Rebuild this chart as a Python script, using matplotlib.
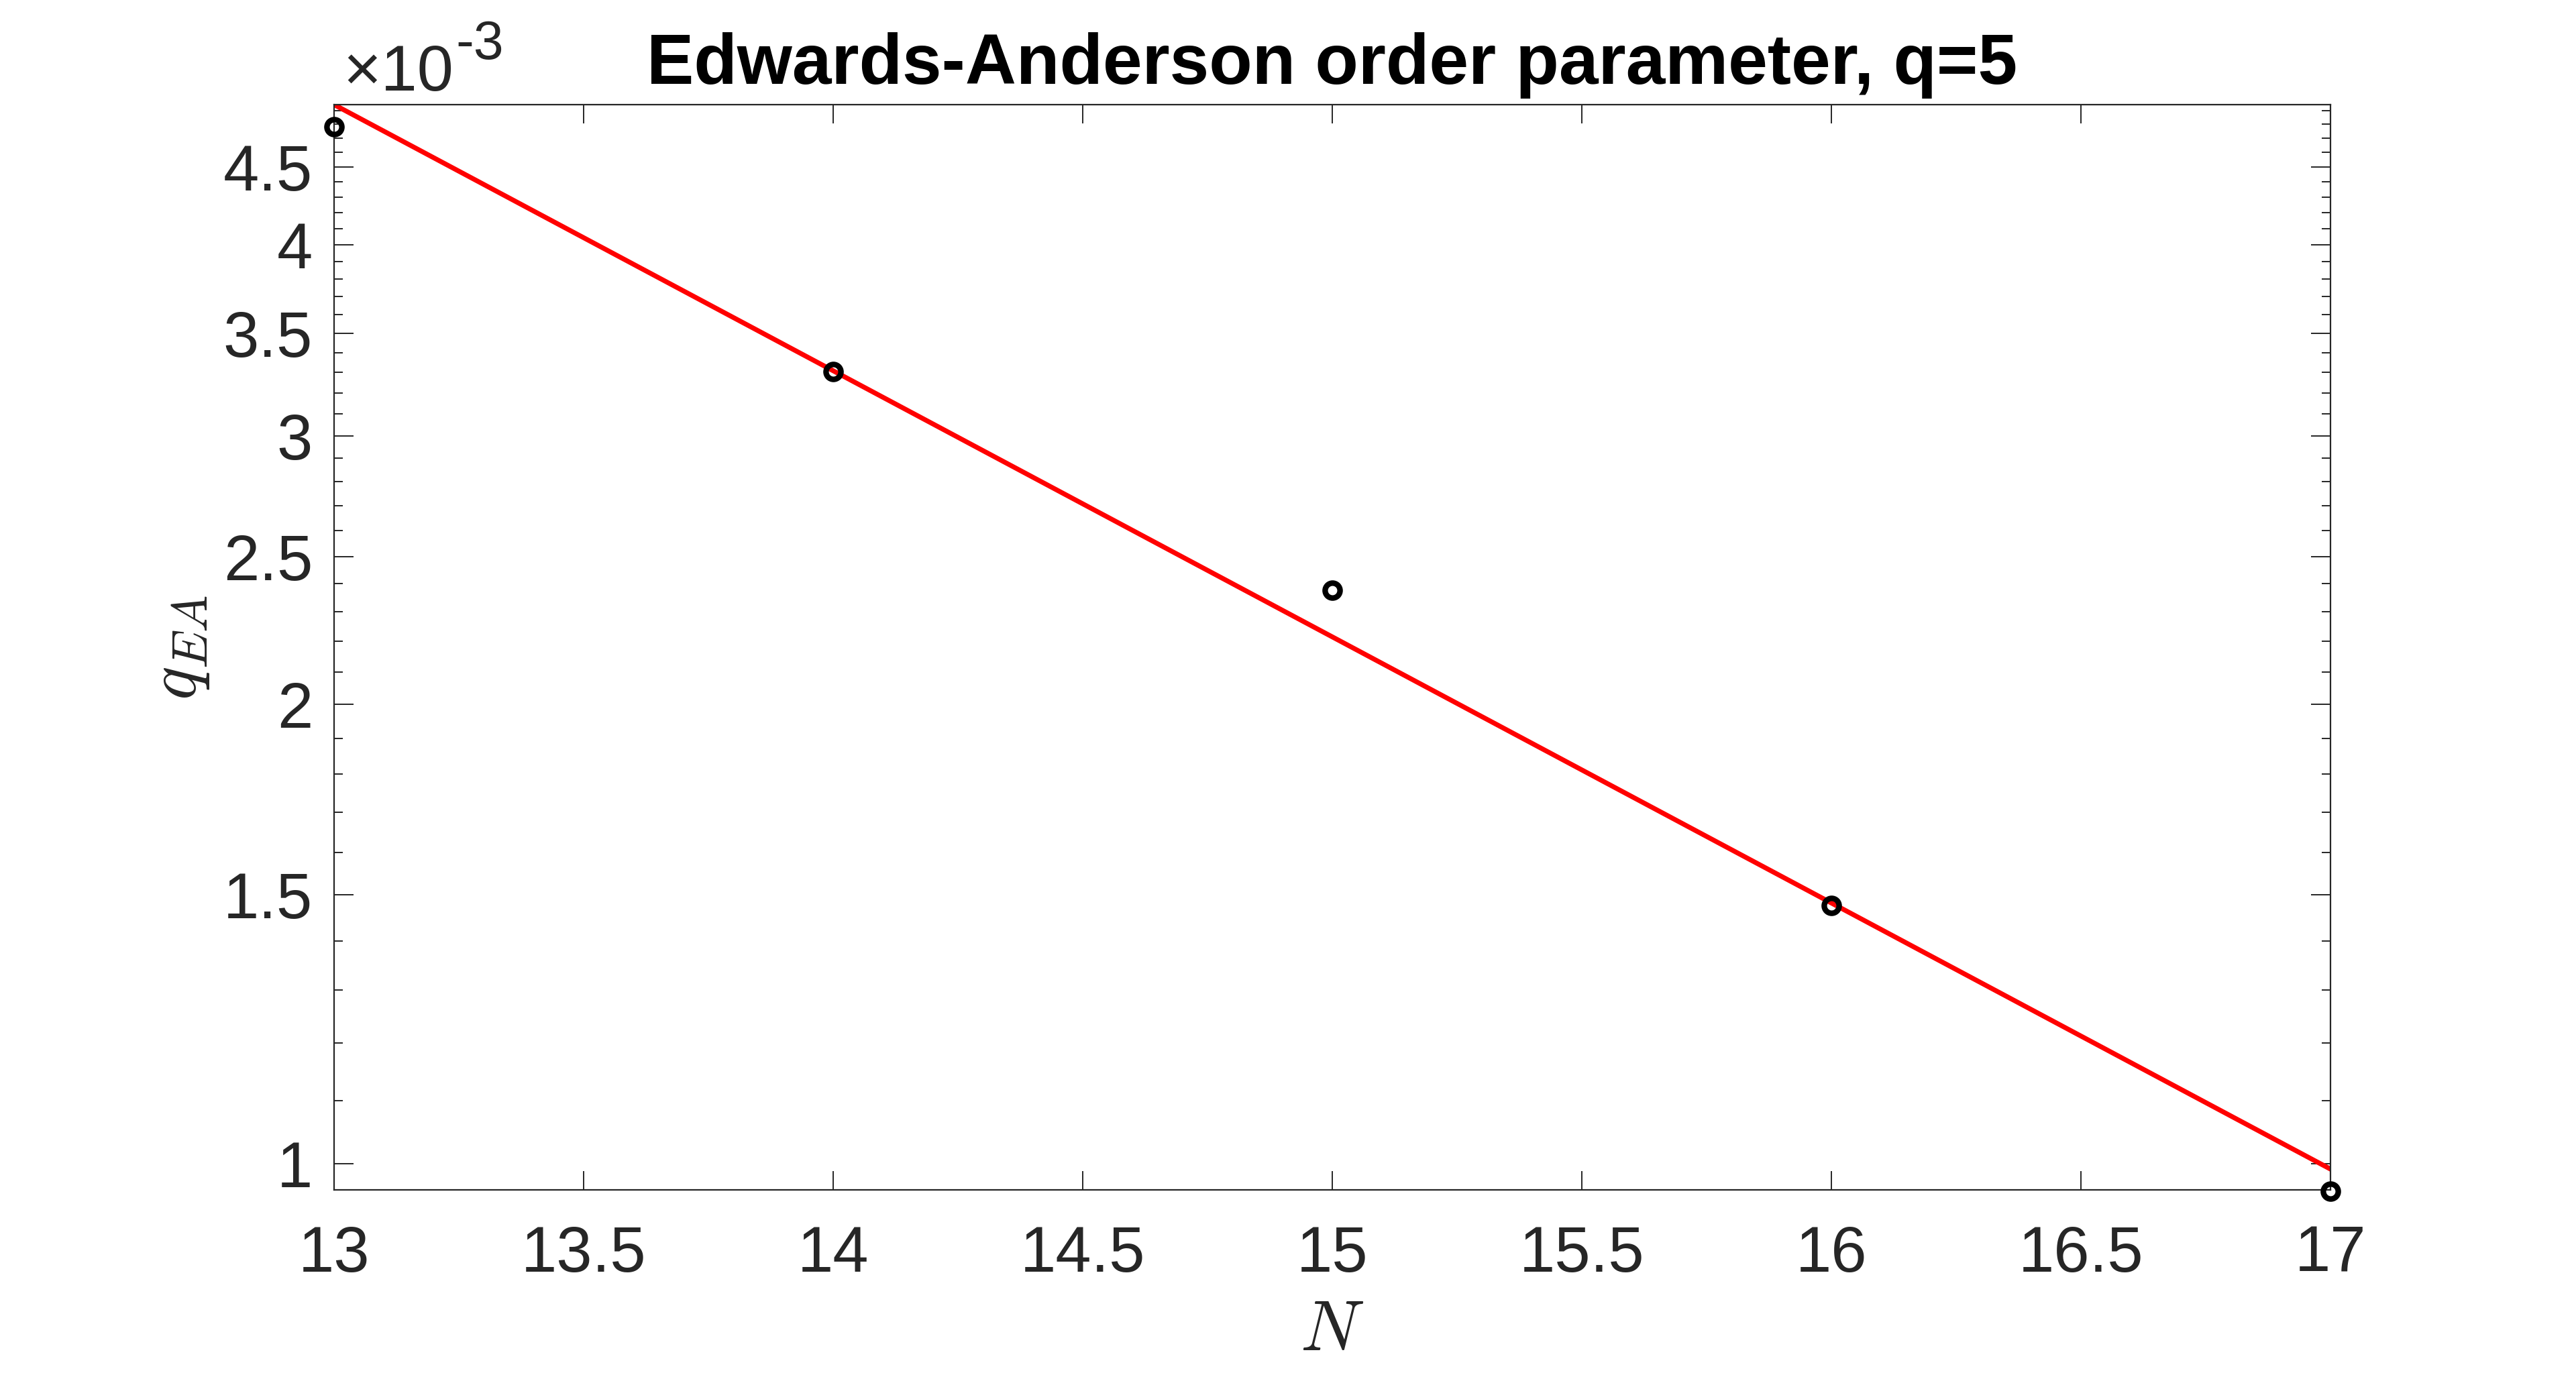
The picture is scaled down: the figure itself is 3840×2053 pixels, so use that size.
import numpy as np
import matplotlib
matplotlib.use("Agg")
import matplotlib.pyplot as plt
from matplotlib.ticker import FixedLocator, FixedFormatter, NullFormatter

# system size N and measured Edwards-Anderson order parameter
N_vals = [13, 14, 15, 16, 17]
q_ea = [4.78e-3, 3.305e-3, 2.376e-3, 1.477e-3, 0.959e-3]

# exponential fit (straight line on log axis), end points
fit_N = [13, 17]
fit_q = [4.944e-3, 0.992e-3]

x_ticks = [13, 13.5, 14, 14.5, 15, 15.5, 16, 16.5, 17]
y_ticks = [1.0, 1.5, 2.0, 2.5, 3.0, 3.5, 4.0, 4.5]
y_tick_labels = ["1", "1.5", "2", "2.5", "3", "3.5", "4", "4.5"]
y_minor = [1.1, 1.2, 1.3, 1.4, 1.6, 1.7, 1.8, 1.9, 2.1, 2.2, 2.3, 2.4,
           2.6, 2.7, 2.8, 2.9, 3.1, 3.2, 3.3, 3.4, 3.6, 3.7, 3.8, 3.9,
           4.1, 4.2, 4.3, 4.4, 4.6, 4.7, 4.8, 4.9]
y_scale = 1e-3
y_lim = (0.961e-3, 4.944e-3)

plt.rcParams['font.family'] = ['Liberation Sans', 'DejaVu Sans']
axcol = (0.15, 0.15, 0.15)

DPI = 200
fig = plt.figure(figsize=(3840 / DPI, 2053 / DPI), dpi=DPI)
ax = fig.add_axes([0.1297, 0.1357, 0.9047 - 0.1297, 0.9240 - 0.1357])

ax.plot(fit_N, fit_q, color='red', linewidth=2.6, zorder=2)
ax.plot(N_vals, q_ea, linestyle='none', marker='o', markersize=8,
        markerfacecolor='none', markeredgecolor='black', markeredgewidth=3,
        clip_on=False, zorder=3)

ax.set_yscale('log')
ax.set_xlim(13, 17)
ax.set_ylim(*y_lim)

ax.xaxis.set_major_locator(FixedLocator(x_ticks))
ax.set_xticklabels([f"{v:g}" for v in x_ticks])
ax.yaxis.set_major_locator(FixedLocator([v * y_scale for v in y_ticks]))
ax.yaxis.set_major_formatter(FixedFormatter(y_tick_labels))
ax.yaxis.set_minor_locator(FixedLocator([v * y_scale for v in y_minor]))
ax.yaxis.set_minor_formatter(NullFormatter())
ax.xaxis.set_minor_locator(FixedLocator([]))

for s in ax.spines.values():
    s.set_color(axcol)
    s.set_linewidth(0.8)

ax.tick_params(axis='both', which='both', direction='in', colors=axcol,
               labelcolor=axcol, labelsize=34.5, width=0.7,
               top=True, right=True)
ax.tick_params(axis='x', which='major', length=10, pad=18.5)
ax.tick_params(axis='y', which='major', length=10.4, pad=11.5)
ax.tick_params(axis='y', which='minor', length=4.7)

ax.set_title("Edwards-Anderson order parameter, q=5", fontsize=38,
             fontweight='bold', color='black', pad=11)
ax.set_xlabel("$N$", fontsize=38, math_fontfamily='cm', color=axcol)
ax.set_ylabel("$q_{EA}$", fontsize=38, math_fontfamily='cm', color=axcol)
ax.xaxis.set_label_coords(0.5, -0.100)
ax.yaxis.set_label_coords(-0.0615, 0.5)

# exponent label at top of y axis
mult = ax.annotate("×10", xy=(0, 1), xycoords='axes fraction',
                   xytext=(13, 21), textcoords='offset pixels',
                   ha='left', va='baseline', fontsize=35, color=axcol)
fig.canvas.draw()
bb = mult.get_window_extent()
ax.annotate("-3", xy=(0, 1), xycoords='axes fraction',
            xytext=(bb.x1 - ax.get_window_extent().x0 + 4, 68),
            textcoords='offset pixels', ha='left', va='baseline',
            fontsize=29, color=axcol)

fig.savefig("out.png", dpi=DPI, facecolor='white')
